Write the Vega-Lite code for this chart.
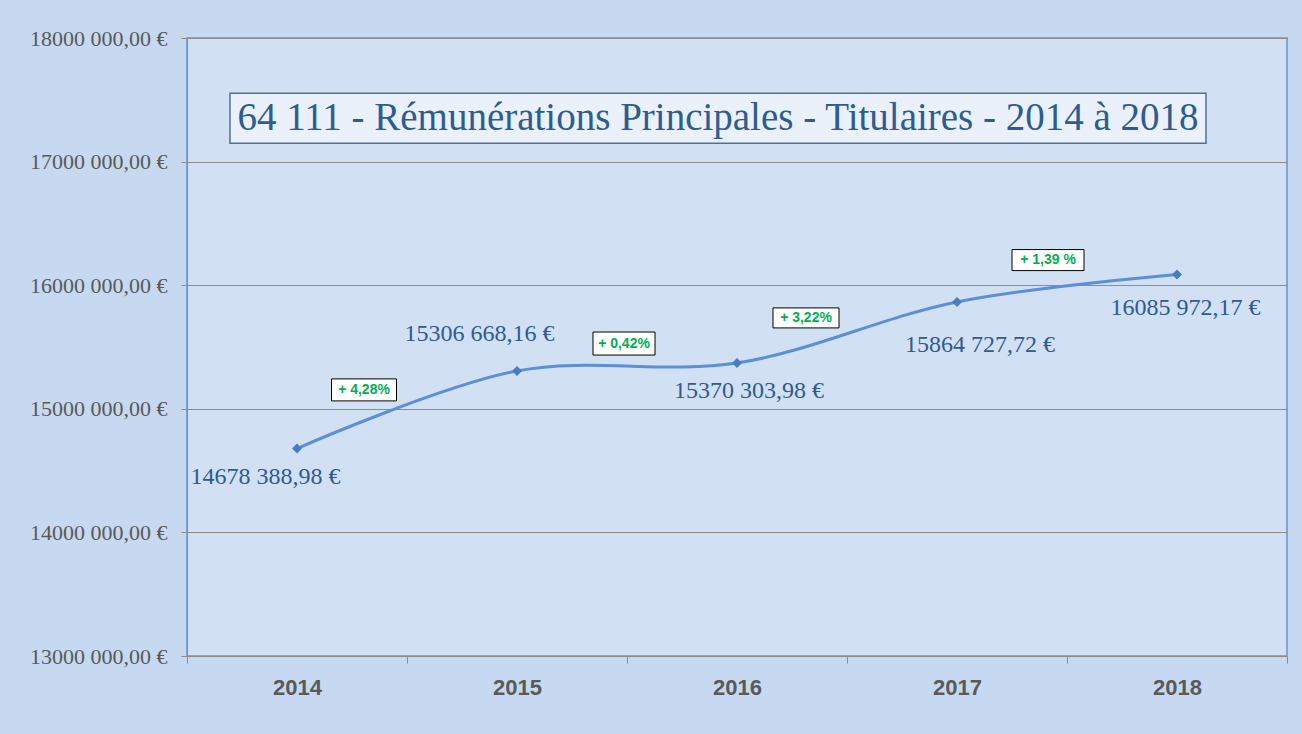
{
  "$schema": "https://vega.github.io/schema/vega-lite/v6.json",
  "width": 1100,
  "height": 618,
  "autosize": {"type": "none"},
  "padding": {"left": 187, "top": 38, "right": 15, "bottom": 78},
  "background": "#c6d9f0",
  "config": {
    "view": {"fill": "#d1e0f2", "stroke": "#6a93cc", "strokeWidth": 1.5},
    "axis": {"title": null}
  },
  "data": {
    "values": [
      {"year": "2014", "value": 14678388.98, "label": "14678 388,98 €"},
      {"year": "2015", "value": 15306668.16, "label": "15306 668,16 €", "pct": "+ 4,28%"},
      {"year": "2016", "value": 15370303.98, "label": "15370 303,98 €", "pct": "+ 0,42%"},
      {"year": "2017", "value": 15864727.72, "label": "15864 727,72 €", "pct": "+ 3,22%"},
      {"year": "2018", "value": 16085972.17, "label": "16085 972,17 €", "pct": "+ 1,39 %"}
    ]
  },
  "encoding": {
    "x": {
      "field": "year", "type": "ordinal",
      "scale": {"type": "band", "paddingInner": 0, "paddingOuter": 0},
      "axis": {
        "labelFont": "Liberation Sans", "labelFontWeight": "bold", "labelFontSize": 22,
        "labelColor": "#595959", "labelAngle": 0, "tickBand": "extent", "tickSize": 7,
        "tickColor": "#8c8c8c", "domainColor": "#8c8c8c", "labelPadding": 14, "grid": false
      }
    },
    "y": {
      "field": "value", "type": "quantitative",
      "scale": {"domain": [13000000, 18000000], "nice": false, "zero": false},
      "axis": {
        "values": [13000000, 14000000, 15000000, 16000000, 17000000, 18000000],
        "labelExpr": "format(floor(datum.value/1000),'d') + ' 000,00 €'",
        "labelFont": "Liberation Serif", "labelFontSize": 22, "labelColor": "#595959",
        "tickSize": 6, "tickColor": "#8c8c8c", "labelPadding": 14,
        "domainColor": "#8c8c8c", "gridColor": "#8c8c8c", "gridWidth": 1
      }
    }
  },
  "layer": [
    {
      "mark": {"type": "line", "interpolate": "catmull-rom", "color": "#5b8fd8", "strokeWidth": 3}
    },
    {
      "mark": {"type": "point", "shape": "diamond", "filled": true, "size": 100, "color": "#4a7dc0", "opacity": 1}
    },
    {
      "transform": [{"filter": "datum.year == '2014'"}],
      "mark": {"type": "text", "font": "Liberation Serif", "fontSize": 24, "color": "#2f5a94", "align": "center", "baseline": "middle", "xOffset": -31.5, "yOffset": 28.5},
      "encoding": {"text": {"field": "label"}}
    },
    {
      "transform": [{"filter": "datum.year == '2015'"}],
      "mark": {"type": "text", "font": "Liberation Serif", "fontSize": 24, "color": "#2f5a94", "align": "center", "baseline": "middle", "xOffset": -37.5, "yOffset": -37},
      "encoding": {"text": {"field": "label"}}
    },
    {
      "transform": [{"filter": "datum.year == '2016'"}],
      "mark": {"type": "text", "font": "Liberation Serif", "fontSize": 24, "color": "#2f5a94", "align": "center", "baseline": "middle", "xOffset": 12, "yOffset": 28},
      "encoding": {"text": {"field": "label"}}
    },
    {
      "transform": [{"filter": "datum.year == '2017'"}],
      "mark": {"type": "text", "font": "Liberation Serif", "fontSize": 24, "color": "#2f5a94", "align": "center", "baseline": "middle", "xOffset": 23, "yOffset": 43},
      "encoding": {"text": {"field": "label"}}
    },
    {
      "transform": [{"filter": "datum.year == '2018'"}],
      "mark": {"type": "text", "font": "Liberation Serif", "fontSize": 24, "color": "#2f5a94", "align": "center", "baseline": "middle", "xOffset": 8.5, "yOffset": 33.5},
      "encoding": {"text": {"field": "label"}}
    },
    {
      "transform": [{"filter": "datum.year == '2015'"}],
      "mark": {"type": "point", "shape": "M-1,-0.3385H1V0.3385H-1Z", "size": 4225, "filled": true, "fill": "#ffffff", "stroke": "#000000", "strokeWidth": 1, "opacity": 1, "xOffset": -153, "yOffset": 19}
    },
    {
      "transform": [{"filter": "datum.year == '2015'"}],
      "mark": {"type": "text", "font": "Liberation Sans", "fontWeight": "bold", "fontSize": 14, "color": "#00b050", "align": "center", "baseline": "middle", "xOffset": -153, "yOffset": 19},
      "encoding": {"text": {"field": "pct"}}
    },
    {
      "transform": [{"filter": "datum.year == '2016'"}],
      "mark": {"type": "point", "shape": "M-1,-0.371H1V0.371H-1Z", "size": 3844, "filled": true, "fill": "#ffffff", "stroke": "#000000", "strokeWidth": 1, "opacity": 1, "xOffset": -113, "yOffset": -19.5}
    },
    {
      "transform": [{"filter": "datum.year == '2016'"}],
      "mark": {"type": "text", "font": "Liberation Sans", "fontWeight": "bold", "fontSize": 14, "color": "#00b050", "align": "center", "baseline": "middle", "xOffset": -113, "yOffset": -19.5},
      "encoding": {"text": {"field": "pct"}}
    },
    {
      "transform": [{"filter": "datum.year == '2017'"}],
      "mark": {"type": "point", "shape": "M-1,-0.303H1V0.303H-1Z", "size": 4356, "filled": true, "fill": "#ffffff", "stroke": "#000000", "strokeWidth": 1, "opacity": 1, "xOffset": -151, "yOffset": 16}
    },
    {
      "transform": [{"filter": "datum.year == '2017'"}],
      "mark": {"type": "text", "font": "Liberation Sans", "fontWeight": "bold", "fontSize": 14, "color": "#00b050", "align": "center", "baseline": "middle", "xOffset": -151, "yOffset": 16},
      "encoding": {"text": {"field": "pct"}}
    },
    {
      "transform": [{"filter": "datum.year == '2018'"}],
      "mark": {"type": "point", "shape": "M-1,-0.292H1V0.292H-1Z", "size": 5184, "filled": true, "fill": "#ffffff", "stroke": "#000000", "strokeWidth": 1, "opacity": 1, "xOffset": -129, "yOffset": -14.5}
    },
    {
      "transform": [{"filter": "datum.year == '2018'"}],
      "mark": {"type": "text", "font": "Liberation Sans", "fontWeight": "bold", "fontSize": 14, "color": "#00b050", "align": "center", "baseline": "middle", "xOffset": -129, "yOffset": -14.5},
      "encoding": {"text": {"field": "pct"}}
    },
    {
      "transform": [{"filter": "datum.year == '2016'"}],
      "mark": {"type": "point", "shape": "M-1,-0.05123H1V0.05123H-1Z", "size": 952576, "filled": true, "fill": "#eaf1fa", "stroke": "#4f6f9f", "strokeWidth": 1.5, "opacity": 1, "xOffset": -19},
      "encoding": {"y": {"datum": 17350000}}
    },
    {
      "transform": [{"filter": "datum.year == '2016'"}],
      "mark": {"type": "text", "font": "Liberation Serif", "fontSize": 39, "color": "#2e5c92", "align": "center", "baseline": "middle", "xOffset": -19},
      "encoding": {"y": {"datum": 17350000}, "text": {"value": "64 111 - Rémunérations Principales - Titulaires - 2014 à 2018"}}
    }
  ]
}
